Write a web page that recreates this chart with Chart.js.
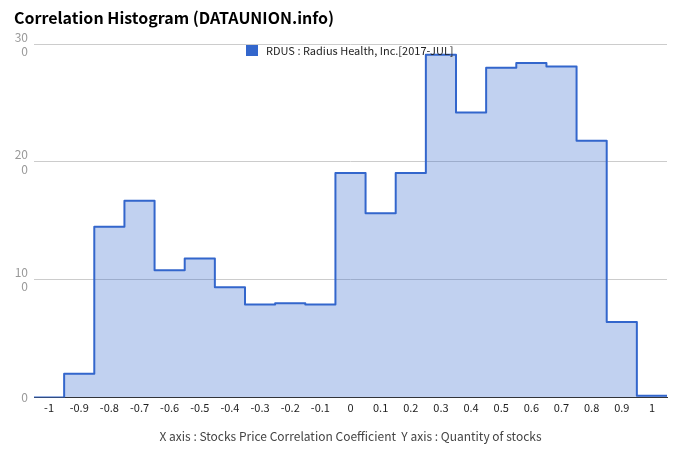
<!DOCTYPE html>
<html>
<head>
<meta charset="utf-8">
<script src="https://cdn.jsdelivr.net/npm/chart.js@4"></script>
<style>
    body { margin: 0; background: #fff; }
    #wrap { position: relative; width: 680px; height: 462px; }
    #legend {
        position: absolute; left: 246px; top: 42px; height: 16px;
        font: 11px 'Noto Sans CJK KR', 'Noto Sans', sans-serif; color: #222;
        display: flex; align-items: center; white-space: nowrap;
    }
    #legend .swatch { width: 12px; height: 11px; background: #3366cc; margin-right: 8px; }
</style>
</head>
<body>
<div id="wrap">
    <canvas id="hist"></canvas>
    <div id="legend"><span class="swatch"></span><span id="legend-text"></span></div>
</div>
<script>
// === DATA ===
const binCenters = [-1, -0.9, -0.8, -0.7, -0.6, -0.5, -0.4, -0.3, -0.2, -0.1, 0, 0.1, 0.2, 0.3, 0.4, 0.5, 0.6, 0.7, 0.8, 0.9, 1];
const xTickLabels = ['-1', '-0.9', '-0.8', '-0.7', '-0.6', '-0.5', '-0.4', '-0.3', '-0.2', '-0.1', '0', '0.1', '0.2', '0.3', '0.4', '0.5', '0.6', '0.7', '0.8', '0.9', '1'];
const counts = [0, 2, 14.5, 16.7, 10.8, 11.8, 9.35, 7.9, 8.0, 7.9, 19.05, 15.65, 19.05, 29.1, 24.2, 28.0, 28.4, 28.1, 21.8, 6.4, 0.15];
const yTicks = [0, 10, 20, 30];
const seriesLabel = 'RDUS : Radius Health, Inc.[2017-JUL]';

const BIN_HALF = 0.05;
const FONT = "'Noto Sans CJK KR', 'Noto Sans', sans-serif";
const BLUE = '#3366cc';

document.getElementById('legend-text').textContent = seriesLabel;

// each bin becomes a step from its left edge; last point closes the final bin
const stepPoints = binCenters.map((c, i) => ({ x: c - BIN_HALF, y: counts[i] }));
stepPoints.push({ x: binCenters[binCenters.length - 1] + BIN_HALF, y: counts[counts.length - 1] });

const ctx = document.getElementById('hist').getContext('2d');

const histChart = new Chart(ctx, {
    type: 'line',
    data: {
        datasets: [{
            label: seriesLabel,
            data: stepPoints,
            stepped: true,
            borderColor: BLUE,
            backgroundColor: 'rgba(51, 102, 204, 0.3)',
            borderWidth: 2,
            borderJoinStyle: 'round',
            fill: 'origin',
            pointRadius: 0,
            pointHoverRadius: 0
        }]
    },
    options: {
        responsive: true,
        maintainAspectRatio: false,
        animation: false,
        layout: { padding: { left: 14, right: 13, top: 0, bottom: 0 } },
        plugins: {
            title: {
                display: true,
                text: 'Correlation Histogram (DATAUNION.info)',
                align: 'start',
                color: '#000',
                font: { family: FONT, size: 16, weight: 'bold' },
                padding: { top: 8, bottom: 17 }
            },
            legend: { display: false },
            tooltip: { enabled: false }
        },
        scales: {
            x: {
                type: 'linear',
                min: -1.05,
                max: 1.05,
                afterBuildTicks: (scale) => { scale.ticks = binCenters.map(v => ({ value: v })); },
                grid: { display: false },
                border: { display: true, color: '#333', width: 1 },
                ticks: {
                    autoSkip: false,
                    maxRotation: 0,
                    padding: -4,
                    color: '#222',
                    font: { family: FONT, size: 11 },
                    callback: (v, i) => xTickLabels[i]
                },
                title: {
                    display: true,
                    text: 'X axis : Stocks Price Correlation Coefficient  Y axis : Quantity of stocks',
                    color: '#444',
                    font: { family: FONT, size: 12 },
                    padding: { top: 19, bottom: 18 }
                }
            },
            y: {
                min: 0,
                max: 30,
                afterBuildTicks: (scale) => { scale.ticks = yTicks.map(v => ({ value: v })); },
                afterFit: (scale) => { scale.width = 20; },
                grid: {
                    drawTicks: false,
                    color: (c) => c.tick && c.tick.value === 0 ? 'rgba(0,0,0,0)' : '#cccccc'
                },
                border: { display: false },
                ticks: {
                    padding: 6,
                    color: '#999',
                    font: { family: FONT, size: 12 },
                    callback: (v) => v === 0 ? '0' : [String(v), '0']
                }
            }
        }
    }
});
</script>
</body>
</html>
